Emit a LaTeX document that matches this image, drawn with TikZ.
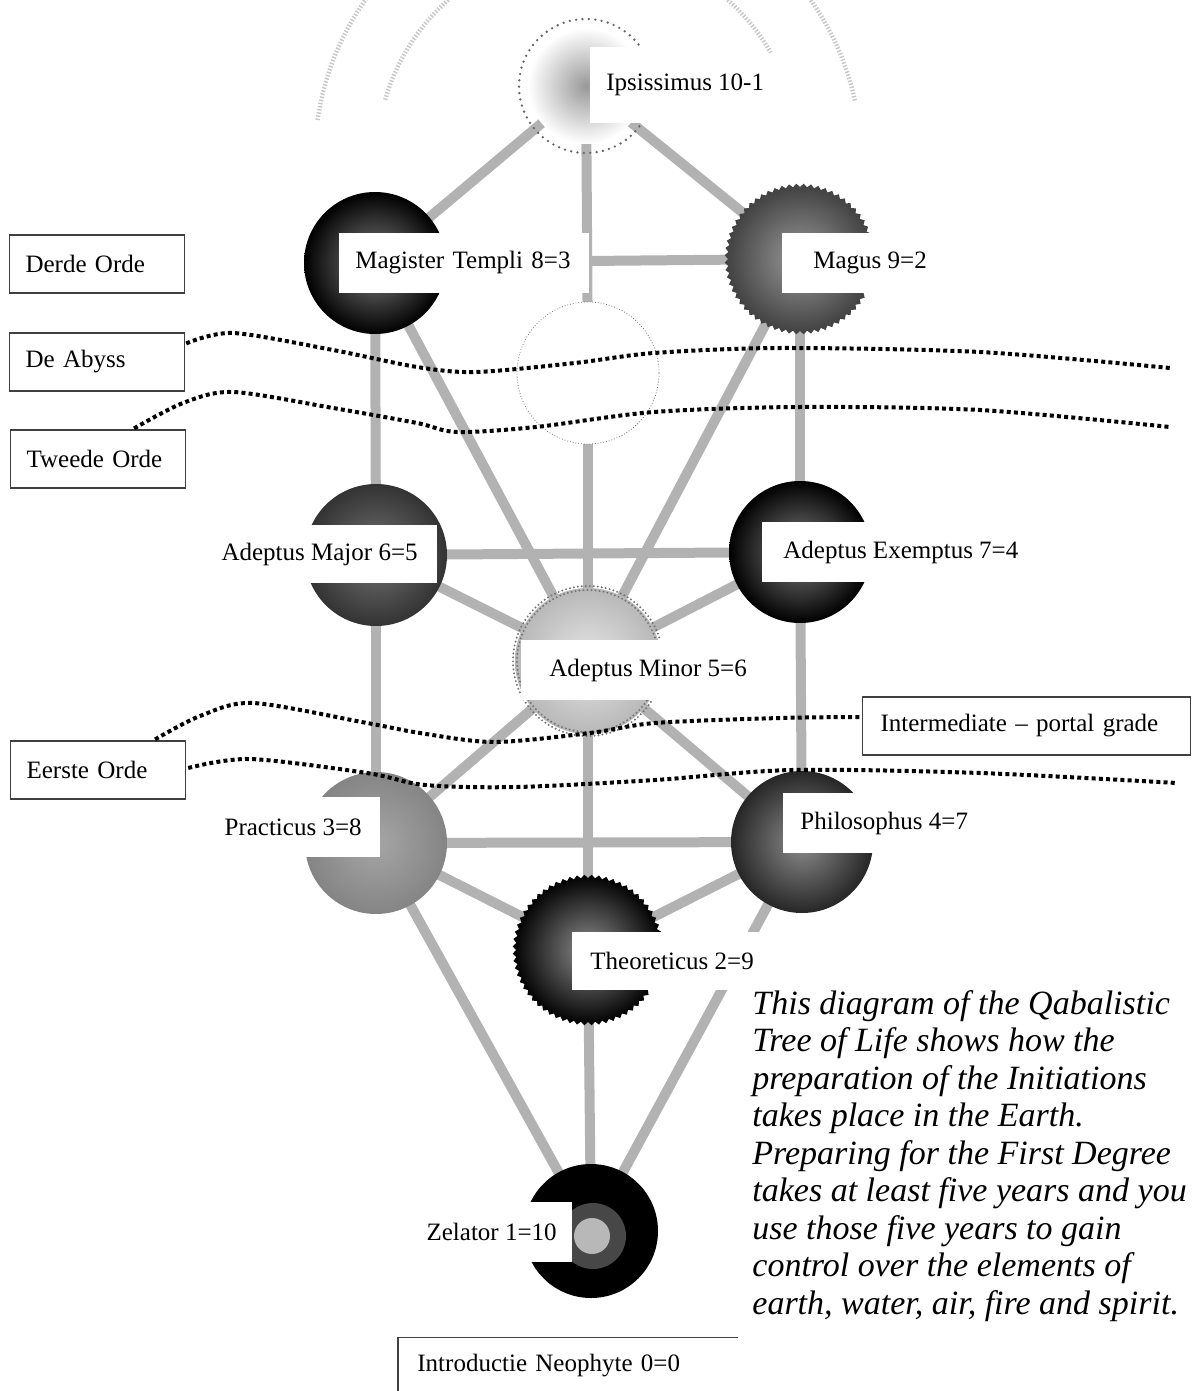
\documentclass[tikz,border=0pt]{standalone}
\usepackage{fontspec}
\setmainfont{Liberation Serif}
\usetikzlibrary{shapes.geometric, backgrounds, calc}

\begin{document}
\begin{tikzpicture}[x=0.5pt, y=-0.5pt,
    sephira/.style={circle, inner sep=0pt, minimum size=71pt},
    serrated/.style={star, star points=64, star point ratio=0.955, inner sep=0pt, minimum size=72pt},
    cut/.style={fill=white, inner ysep=0pt, minimum height=30pt, font=\fontsize{12.5}{14}\selectfont},
    orde/.style={draw=black!75, line width=0.6pt, fill=white, anchor=west, inner xsep=8pt,
      text width=71.5pt, align=left, minimum height=29pt, font=\fontsize{12.5}{14}\selectfont},
    pathline/.style={line width=5pt, draw=black!30},
    abyssline/.style={line width=2pt, dash pattern=on 2pt off 1.6pt},
    wave/.style={line width=2.2pt, black!22, dash pattern=on 0.7pt off 0.9pt}]

      \useasboundingbox (0,0) rectangle (1192,1391);

      % the sephiroth
      \node[sephira, minimum size=58pt, inner color=black!40, outer color=white] (ips) at (586,86) {};
      \node[sephira, inner color=black!50, outer color=black] (mt) at (375,263) {};
      \node[serrated, inner color=black!40, outer color=black!75] (mag) at (800,259) {};
      \node[sephira, draw=black!55, densely dotted, fill=white] (daath) at (588,373) {};
      \node[sephira, inner color=black!55, outer color=black!80] (amaj) at (376,555) {};
      \node[sephira, inner color=black!50, outer color=black] (aex) at (800,552) {};
      \node[sephira, minimum size=73pt, inner color=black!10, outer color=black!28] (amin) at (588,661) {};
      \node[sephira, inner color=black!35, outer color=black!48] (pra) at (376,843) {};
      \node[sephira, inner color=black!45, outer color=black!85] (phi) at (802,842) {};
      \node[serrated, inner color=black!45, outer color=black] (the) at (588,950) {};
      \node[sephira, minimum size=67pt, fill=black] (zel) at (591,1231) {};
      \node[sephira, minimum size=33pt, fill=black!72] (zelR) at (593,1236) {};
      \node[sephira, minimum size=18pt, fill=black!28] (zelC) at (592,1236) {};

      \draw[black!60, line width=1.3pt, dash pattern=on 0pt off 3.2pt, line cap=round] (ips) circle[radius=33.5pt];
      \draw[black!55, line width=1.1pt, dash pattern=on 0pt off 2pt, line cap=round] (amin) circle[radius=35.5pt] (amin) circle[radius=37.5pt];

      % the paths
      \begin{scope}[on background layer]
        \draw[pathline] (ips.center) -- (mt.center);
        \draw[pathline] (ips.center) -- (mag.center);
        \draw[pathline] (ips.center) -- (daath.center);
        \draw[pathline] (mt.center) -- (mag.center);
        \draw[pathline] (mt.center) -- (amaj.center);
        \draw[pathline] (mt.center) -- (amin.center);
        \draw[pathline] (mag.center) -- (aex.center);
        \draw[pathline] (mag.center) -- (amin.center);
        \draw[pathline] (daath.center) -- (amin.center);
        \draw[pathline] (amaj.center) -- (aex.center);
        \draw[pathline] (amaj.center) -- (amin.center);
        \draw[pathline] (aex.center) -- (amin.center);
        \draw[pathline] (amaj.center) -- (pra.center);
        \draw[pathline] (aex.center) -- (phi.center);
        \draw[pathline] (amin.center) -- (pra.center);
        \draw[pathline] (amin.center) -- (phi.center);
        \draw[pathline] (amin.center) -- (the.center);
        \draw[pathline] (pra.center) -- (phi.center);
        \draw[pathline] (pra.center) -- (the.center);
        \draw[pathline] (phi.center) -- (the.center);
        \draw[pathline] (pra.center) -- (zel.center);
        \draw[pathline] (phi.center) -- (zel.center);
        \draw[pathline] (the.center) -- (zel.center);
      \end{scope}

      % grade labels cut into the spheres
      \node[cut, anchor=west, inner xsep=8pt, minimum height=38pt] (ipsL) at (590,85) {Ipsissimus 10-1};
      \node[cut, anchor=west, inner xsep=8pt, text width=109pt, align=left] (mtL) at (339,263) {Magister~Templi~8=3};
      \node[cut, anchor=west, inner xsep=15.5pt] (magL) at (782,263) {Magus 9=2};
      \node[cut, anchor=east, inner xsep=9.5pt, minimum height=29pt] (amajL) at (437,554) {Adeptus Major 6=5};
      \node[cut, anchor=west, inner xsep=10.5pt] (aexL) at (762,552) {Adeptus Exemptus 7=4};
      \node[cut, anchor=west, inner xsep=14pt] (aminL) at (521,670) {Adeptus Minor 5=6};
      \node[cut, anchor=east, inner xsep=9pt] (praL) at (380,827) {Practicus 3=8};
      \node[cut, anchor=west, inner xsep=8.5pt] (phiL) at (783,823) {Philosophus 4=7};
      \node[cut, anchor=west, inner xsep=9pt, minimum height=29pt] (theL) at (572,961) {Theoreticus 2=9};
      \node[cut, anchor=east, inner xsep=7.5pt] (zelL) at (572,1232) {Zelator 1=10};

      % the orders
      \node[orde] (derde) at (9,264) {Derde Orde};
      \node[orde] (abyss) at (9,362) {De Abyss};
      \node[orde] (tweede) at (10,459) {Tweede Orde};
      \node[orde] (eerste) at (10,770) {Eerste Orde};
      \node[orde, inner xsep=9pt, text width=146pt] (inter) at (862,726) {Intermediate – portal grade};
      \node[cut, anchor=west, inner xsep=9.5pt, text width=150.5pt, align=left, minimum height=28pt] (neo) at (398,1366) {Introductie Neophyte 0=0};
      \draw[draw=black!75, line width=0.6pt] (neo.north east) -- (neo.north west) -- (neo.south west);

      % borders between the orders
      \coordinate (abyssA) at ($(abyss.north east)+(1,11)$);
      \coordinate (abyssB) at (1170,368);
      \coordinate (tweedeA) at ($(tweede.north)+(36,-1)$);
      \coordinate (tweedeB) at (1170,427);
      \coordinate (interA) at ($(eerste.north)+(57,-1)$);
      \coordinate (interB) at ($(inter.west)+(0,-9)$);
      \coordinate (eersteA) at ($(eerste.east)+(2,-2)$);
      \coordinate (eersteB) at (1177,783);

      \draw[abyssline] plot[smooth] coordinates {(abyssA) (233,333) (333,350) (417,367) (476,372) (575,363) (654,353) (780,348) (980,352) (abyssB)};
      \draw[abyssline] plot[smooth] coordinates {(tweedeA) (183,403) (233,392) (333,408) (417,423) (457,432) (536,427) (654,412) (800,407) (980,410) (tweedeB)};
      \draw[abyssline] plot[smooth] coordinates {(interA) (200,716) (253,703) (367,723) (420,733) (494,742) (590,733) (655,723) (780,718) (interB)};
      \draw[abyssline] plot[smooth] coordinates {(eersteA) (250,759) (367,773) (425,785) (517,787) (655,780) (792,770) (980,773) (eersteB)};

      % radiance above the crown
      \draw[wave] plot[domain=188:220, samples=30] ({588+273*cos(\x)},{158+273*sin(\x)});
      \draw[wave] plot[domain=196:232, samples=30] ({588+211*cos(\x)},{158+211*sin(\x)});
      \draw[wave] plot[domain=308:330, samples=30] ({588+211*cos(\x)},{158+211*sin(\x)});
      \draw[wave] plot[domain=320:348, samples=30] ({588+273*cos(\x)},{158+273*sin(\x)});

      \node[anchor=north west, inner sep=0pt, align=left, font=\fontsize{17}{18.75}\selectfont\itshape] (note) at (752,990)
        {This diagram of the Qabalistic\\ Tree of Life shows how the\\ preparation of the Initiations\\ takes place in the Earth.\\
         Preparing for the First Degree\\ takes at least five years and you\\ use those five years to gain\\
         control over the elements of\\ earth, water, air, fire and spirit.};

    \end{tikzpicture}
\end{document}
